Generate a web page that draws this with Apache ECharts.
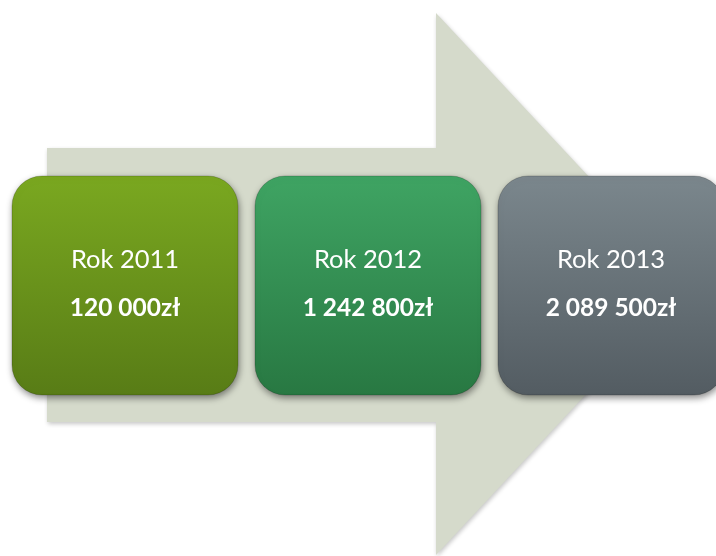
<!DOCTYPE html>
<html><head><meta charset="utf-8">
<script src="https://cdn.jsdelivr.net/npm/echarts@6/dist/echarts.min.js"></script>
<style>html,body{margin:0;padding:0;background:#fff}#c{width:716px;height:556px}</style>
</head><body><div id="c"></div>
<script>
const years = ['Rok 2011', 'Rok 2012', 'Rok 2013'];
const amounts = [120000, 1242800, 2089500];
const amountLabels = ['120 000zł', '1 242 800zł', '2 089 500zł'];
const boxColors = [['#7AA820', '#587C16'], ['#3FA463', '#287842'], ['#7B878D', '#535C62']];

const chart = echarts.init(document.getElementById('c'), null, {renderer: 'canvas'});
const font = 'Lato, "Open Sans", sans-serif';
chart.setOption({
  animation: false,
  backgroundColor: '#ffffff',
  graphic: [{
    type: 'polygon', z: 0,
    shape: {points: [[47,148],[436,148],[436,13],[689,284],[436,555],[436,422],[47,422]]},
    style: {fill: '#D5DACB', shadowBlur: 4, shadowOffsetX: 1, shadowOffsetY: 2, shadowColor: 'rgba(0,0,0,0.22)'}
  }],
  grid: {left: 3.5, width: 729, top: 176, height: 219, outerBoundsMode: 'none', containLabel: false},
  xAxis: {type: 'category', data: years, show: false},
  yAxis: {type: 'value', show: false, min: 0, max: 1},
  series: [{
    type: 'custom', z: 5, clip: false,
    data: amounts.map((v, i) => [i, v]),
    renderItem: function (params, api) {
      const i = api.value(0);
      const c = api.coord([i, 1]);
      const c0 = api.coord([i, 0]);
      const bw = api.size([1, 0])[0] * 0.93;
      const x = c[0] - bw / 2, y = c[1], h = c0[1] - c[1];
      const col = boxColors[i];
      return {
        type: 'group',
        children: [{
          type: 'rect',
          shape: {x: x, y: y, width: bw, height: h, r: 30},
          style: {
            fill: new echarts.graphic.LinearGradient(0, 0, 0, 1, [{offset: 0, color: col[0]}, {offset: 1, color: col[1]}]),
            stroke: 'rgba(0,0,0,0.18)', lineWidth: 1,
            shadowBlur: 7, shadowOffsetX: 1, shadowOffsetY: 3, shadowColor: 'rgba(0,0,0,0.45)'
          }
        }, {
          type: 'text',
          style: {x: c[0], y: 260, text: years[i], fill: '#ffffff', font: '400 25.5px ' + font, align: 'center', verticalAlign: 'middle'}
        }, {
          type: 'text',
          style: {x: c[0], y: 308, text: amountLabels[i], fill: '#ffffff', font: '700 24.5px ' + font, align: 'center', verticalAlign: 'middle'}
        }]
      };
    }
  }]
});
</script></body></html>
